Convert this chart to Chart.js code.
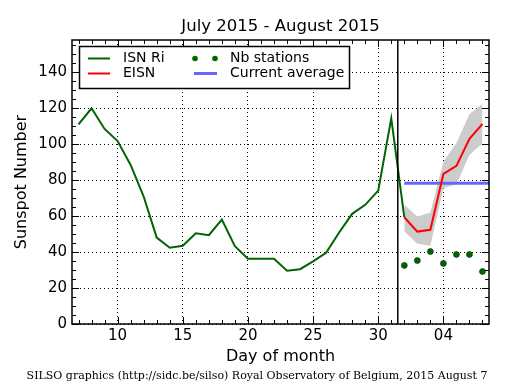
<!DOCTYPE html>
<html>
<head>
<meta charset="utf-8">
<script src="https://cdn.jsdelivr.net/npm/chart.js@4/dist/chart.umd.min.js"></script>
<style>
html,body{margin:0;padding:0;background:#fff}
#wrap{width:515px;height:390px}
</style>
</head>
<body>
<div id="wrap"><canvas id="c" width="515" height="390"></canvas></div>
<script>
// values
const isnDays = [7,8,9,10,11,12,13,14,15,16,17,18,19,20,21,22,23,24,25,26,27,28,29,30,31,32];
const isnValues = [111,120,108.5,101.8,88.5,70.9,48.1,42.4,43.5,50.5,49.4,58.1,43.3,36.3,36.3,36.3,29.6,30.5,34.8,39.6,50.9,61.3,66.3,74.2,114.4,59.4];
const eisnDays = [32,33,34,35,36,37,38];
const eisnValues = [59.4,51.4,52.4,83.5,88,103,111.3];
const eisnUpper = [66.3,59.8,62,90.4,100.5,116.8,122.4];
const eisnLower = [51.4,44.6,43.5,75.5,77.8,94,100.5];
const stationValues = [32.6,35.3,40.3,33.7,38.7,38.7,29.2];
const averageDays = [32,38.5];
const averageValue = 78.3;
const todayMark = 31.5;
const xTicks = [10,15,20,25,30,35];
const xTickLabels = ['10','15','20','25','30','04'];
const yTicks = [0,20,40,60,80,100,120,140];

const GREEN = '#006400', RED = '#ff0000', BLUE = '#6666ff', BAND = '#cccccc';
const FONT = '"DejaVu Sans", sans-serif';
const pts = (xs, ys) => xs.map((x,i)=>({x:x, y:ys[i]}));

// matplotlib-like frame, inward ticks, legend and text
const decor = {
  id:'decor',
  afterDraw(chart){
    const ctx = chart.ctx, a = chart.chartArea;
    const xs = chart.scales.x, ys = chart.scales.y;
    ctx.save();
    ctx.strokeStyle = '#000';
    ctx.lineWidth = 1;
    // x ticks (minor every day, major on xTicks)
    for(let d=Math.ceil(xs.min); d<=xs.max; d++){
      const px = Math.round(xs.getPixelForValue(d))+0.5;
      const len = xTicks.includes(d) ? 7 : 4;
      ctx.beginPath();
      ctx.moveTo(px,a.bottom); ctx.lineTo(px,a.bottom-len);
      ctx.moveTo(px,a.top); ctx.lineTo(px,a.top+len);
      ctx.stroke();
    }
    for(let v=0; v<=ys.max; v+=5){
      const py = Math.round(ys.getPixelForValue(v))+0.5;
      const len = v%20===0 ? 7 : 4;
      ctx.beginPath();
      ctx.moveTo(a.left,py); ctx.lineTo(a.left+len,py);
      ctx.moveTo(a.right,py); ctx.lineTo(a.right-len,py);
      ctx.stroke();
    }
    ctx.lineWidth = 1.5;
    ctx.strokeRect(a.left, a.top, a.right-a.left, a.bottom-a.top);

    // legend
    const lx=79.5, ly=46.5, lw=270, lh=42;
    ctx.fillStyle='#fff';
    ctx.fillRect(lx,ly,lw,lh);
    ctx.lineWidth=1.5;
    ctx.strokeRect(lx,ly,lw,lh);
    ctx.font = '14px '+FONT;
    ctx.textBaseline='middle';
    ctx.textAlign='left';
    const row1=58.5, row2=73.5;
    ctx.lineWidth=2;
    ctx.strokeStyle=GREEN; ctx.beginPath(); ctx.moveTo(88,row1); ctx.lineTo(110,row1); ctx.stroke();
    ctx.strokeStyle=RED; ctx.beginPath(); ctx.moveTo(88,row2); ctx.lineTo(110,row2); ctx.stroke();
    ctx.fillStyle=GREEN;
    [195,215].forEach(x=>{ctx.beginPath(); ctx.arc(x,row1,2.8,0,Math.PI*2); ctx.fill();});
    ctx.strokeStyle=BLUE; ctx.lineWidth=3;
    ctx.beginPath(); ctx.moveTo(194,row2); ctx.lineTo(217,row2); ctx.stroke();
    ctx.fillStyle='#000';
    ctx.fillText('ISN Ri',123,row1);
    ctx.fillText('EISN',123,row2);
    ctx.fillText('Nb stations',230,row1);
    ctx.fillText('Current average',230,row2);

    // titles
    ctx.textAlign='center';
    ctx.font='16.5px '+FONT;
    ctx.fillText('July 2015 - August 2015',(a.left+a.right)/2,27);
    ctx.font='16px '+FONT;
    ctx.fillText('Day of month',(a.left+a.right)/2,357);
    ctx.save();
    ctx.translate(22,(a.top+a.bottom)/2);
    ctx.rotate(-Math.PI/2);
    ctx.fillText('Sunspot Number',0,0);
    ctx.restore();
    ctx.font='11px "DejaVu Serif", serif';
    ctx.fillText('SILSO graphics (http://sidc.be/silso) Royal Observatory of Belgium, 2015 August 7',257,376);
    ctx.restore();
  }
};

new Chart(document.getElementById('c'), {
  type:'line',
  data:{
    datasets:[
      {label:'today', data:[{x:todayMark,y:0},{x:todayMark,y:158}], borderColor:'#000', borderWidth:1.5, pointRadius:0, order:1},
      {label:'ISN Ri', data:pts(isnDays,isnValues), borderColor:GREEN, borderWidth:2, pointRadius:0, order:2},
      {label:'EISN', data:pts(eisnDays,eisnValues), borderColor:RED, borderWidth:2, pointRadius:0, order:3},
      {label:'Current average', data:averageDays.map(x=>({x:x,y:averageValue})), borderColor:BLUE, borderWidth:3, pointRadius:0, order:4},
      {label:'Nb stations', data:pts(eisnDays,stationValues), showLine:false, pointRadius:3, pointBackgroundColor:GREEN, pointBorderColor:'#003a00', pointBorderWidth:0.6, order:5},
      {label:'upper', data:pts(eisnDays,eisnUpper), borderWidth:0, pointRadius:0, backgroundColor:BAND, fill:'+1', order:6},
      {label:'lower', data:pts(eisnDays,eisnLower), borderWidth:0, pointRadius:0, order:7}
    ]
  },
  options:{
    responsive:false,
    animation:false,
    devicePixelRatio:1,
    layout:{padding:{top:40,right:26,left:0,bottom:0}},
    plugins:{legend:{display:false}, tooltip:{enabled:false}},
    elements:{line:{tension:0}},
    scales:{
      x:{
        type:'linear', min:6.5, max:38.5,
        afterBuildTicks:s=>{ s.ticks = xTicks.map(v=>({value:v})); },
        afterFit:s=>{ s.height = 66; },
        ticks:{ color:'#000', font:{family:FONT,size:15}, padding:3, maxRotation:0,
          callback:v=>xTickLabels[xTicks.indexOf(v)] },
        grid:{ color:'#000', lineWidth:1, drawTicks:false },
        border:{ display:false, dash:[1,3] }
      },
      y:{
        type:'linear', min:0, max:158,
        afterBuildTicks:s=>{ s.ticks = yTicks.map(v=>({value:v})); },
        afterFit:s=>{ s.width = 72; },
        ticks:{ color:'#000', font:{family:FONT,size:15}, padding:5 },
        grid:{ color:'#000', lineWidth:1, drawTicks:false },
        border:{ display:false, dash:[1,3] }
      }
    }
  },
  plugins:[decor]
});
</script>
</body>
</html>
